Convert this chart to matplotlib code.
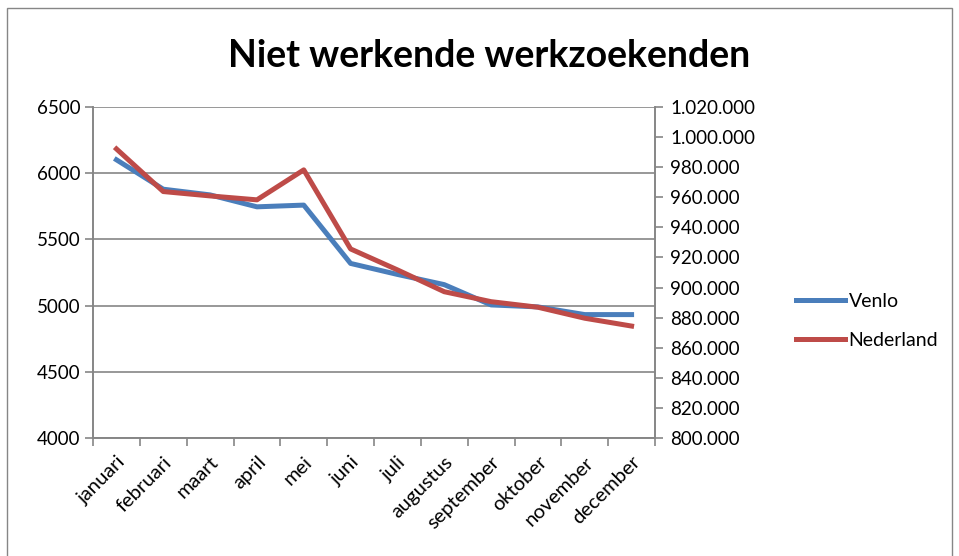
import matplotlib.pyplot as plt
from matplotlib.ticker import FuncFormatter, FixedLocator
from matplotlib.patches import Rectangle
import numpy as np

maanden = ['januari', 'februari', 'maart', 'april', 'mei', 'juni', 'juli',
           'augustus', 'september', 'oktober', 'november', 'december']
venlo = [6100, 5878, 5835, 5745, 5758, 5318, 5235, 5158, 5005, 4990, 4932, 4932]
nederland = [992000, 963700, 960800, 958200, 978100, 925600, 911700,
             897200, 890600, 886900, 879600, 874400]

plt.rcParams['font.family'] = ['Lato', 'DejaVu Sans']

fig = plt.figure(figsize=(9.59, 5.56), dpi=100)
ax = fig.add_axes([0.097, 0.212, 0.586, 0.596])
ax2 = ax.twinx()

x = np.arange(len(maanden))
l1, = ax.plot(x, venlo, color='#4A7EBB', lw=3.6, label='Venlo', zorder=3)
l2, = ax2.plot(x, nederland, color='#BE4B48', lw=3.6, label='Nederland', zorder=3)

ax.set_xlim(-0.5, 11.5)
ax.set_ylim(4000, 6500)
ax.set_yticks(np.arange(4000, 6501, 500))
ax2.set_ylim(800000, 1020000)
ax2.set_yticks(np.arange(800000, 1020001, 20000))
ax2.yaxis.set_major_formatter(FuncFormatter(lambda v, p: f'{int(v):,}'.replace(',', '.')))

ax.set_xticks(x)
ax.set_xticklabels(maanden, rotation=45, ha='right', rotation_mode='anchor')
ax.xaxis.set_minor_locator(FixedLocator(np.arange(-0.5, 12, 1)))
ax.tick_params(axis='x', which='major', length=0, pad=11, labelsize=14.5)
ax.tick_params(axis='x', which='minor', length=6, color='#868686', width=1.2)
ax.tick_params(axis='y', length=6, color='#868686', width=1.2, labelsize=13.5, pad=3)
ax2.tick_params(axis='y', length=6, color='#868686', width=1.2, labelsize=13.5, pad=5)

ax.grid(axis='y', color='#868686', lw=1.2)
for a in (ax, ax2):
    a.spines['top'].set_visible(False)
    for s in ('left', 'right', 'bottom'):
        a.spines[s].set_color('#868686')
        a.spines[s].set_linewidth(1.2)

fig.text(0.51, 0.9, 'Niet werkende werkzoekenden', ha='center', va='center',
         fontsize=27, fontweight='bold')

fig.legend(handles=[l1, l2], loc='center left', bbox_to_anchor=(0.812, 0.423),
           frameon=False, fontsize=14, handlelength=2.5, handletextpad=0.2,
           labelspacing=1.15)

fig.patches.append(Rectangle((0.007, -0.02), 0.986, 1.005, transform=fig.transFigure,
                             fill=False, edgecolor='#868686', lw=1.0))

fig.savefig('out.png', dpi=100)
